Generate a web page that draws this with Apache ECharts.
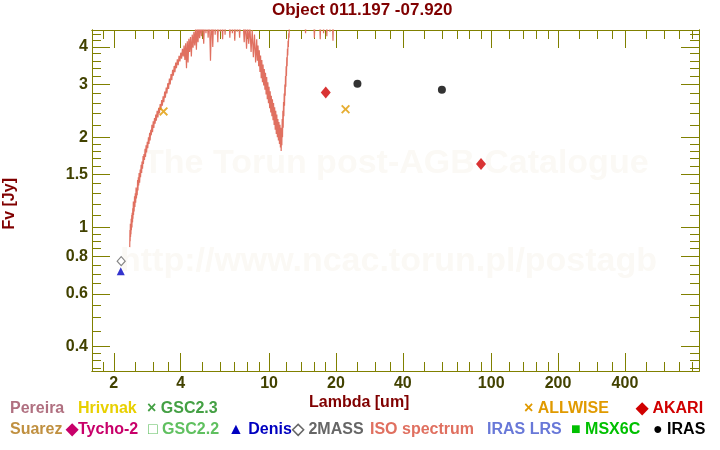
<!DOCTYPE html>
<html><head><meta charset="utf-8">
<script src="https://cdn.jsdelivr.net/npm/echarts@6/dist/echarts.min.js"></script>
<style>html,body{margin:0;padding:0;background:#fff}#c{width:720px;height:450px}</style>
</head><body><div id="c"></div>
<script>
// ISO spectrum [lambda um, Fv Jy]
const isoSpectrum = [
[2.360,0.86],[2.365,0.98],[2.370,0.90],[2.375,1.03],[2.380,0.93],[2.385,1.00],[2.390,0.95],[2.395,1.07],[2.400,0.98],[2.41,1.10],
[2.415,1.00],[2.42,1.12],[2.43,1.04],[2.435,1.16],[2.44,1.07],[2.45,1.22],[2.455,1.10],[2.46,1.18],[2.47,1.13],[2.48,1.27],
[2.49,1.17],[2.50,1.30],[2.51,1.21],[2.52,1.36],[2.53,1.25],[2.54,1.33],[2.55,1.28],[2.56,1.44],[2.57,1.33],[2.58,1.47],
[2.59,1.38],[2.60,1.52],[2.615,1.41],[2.63,1.56],[2.64,1.47],[2.655,1.62],[2.67,1.52],[2.68,1.66],[2.695,1.57],[2.71,1.73],
[2.72,1.63],[2.735,1.76],[2.75,1.68],[2.765,1.83],[2.78,1.72],[2.795,1.88],[2.81,1.78],[2.83,1.93],[2.845,1.84],[2.865,2.00],
[2.88,1.90],[2.90,2.07],[2.915,1.95],[2.935,2.12],[2.95,2.03],[2.97,2.20],[2.99,2.08],[3.01,2.26],[3.03,2.15],[3.05,2.32],
[3.07,2.22],[3.09,2.38],[3.11,2.27],[3.135,2.45],[3.16,2.33],[3.185,2.51],[3.21,2.40],[3.235,2.58],[3.26,2.47],[3.285,2.66],
[3.31,2.55],[3.335,2.74],[3.36,2.62],[3.39,2.84],[3.415,2.71],[3.445,2.93],[3.47,2.80],[3.50,3.03],[3.53,2.90],[3.56,3.14],
[3.59,3.00],[3.62,3.25],[3.65,3.10],[3.68,3.36],[3.71,3.21],[3.74,3.46],[3.77,3.30],[3.80,3.55],[3.83,3.40],[3.865,3.64],
[3.90,3.48],[3.935,3.74],[3.97,3.58],[4.005,3.83],[4.04,3.66],[4.075,3.95],[4.11,3.72],[4.145,4.05],[4.18,3.62],[4.215,4.12],
[4.25,3.40],[4.285,4.18],[4.32,3.55],[4.355,4.26],[4.39,3.85],[4.43,4.32],[4.47,3.72],[4.51,4.40],[4.55,3.98],[4.59,4.50],
[4.63,4.05],[4.67,4.62],[4.71,3.92],[4.75,4.70],[4.79,4.15],[4.83,4.75],[4.87,4.28],[4.91,4.85],
[4.96,4.35],[5.02,5.00],[5.08,4.10],[5.14,5.10],[5.20,4.45],[5.26,5.20],[5.32,4.30],[5.38,5.30],[5.45,3.60],[5.52,5.20],
[5.58,4.00],[5.65,5.40],[5.72,4.40],[5.80,5.30],[5.88,4.15],[5.95,5.40],[6.03,4.50],[6.10,5.30],[6.18,4.25],[6.26,5.50],
[6.34,4.40],[6.42,5.30],[6.50,4.60],[6.58,5.40],[6.66,4.30],[6.75,5.20],[6.84,4.45],[6.92,5.30],[7.01,4.20],[7.10,5.20],
[7.19,4.50],[7.28,5.10],[7.37,4.30],[7.46,5.10],[7.55,4.60],[7.64,4.95],[7.73,4.15],[7.82,4.90],[7.92,3.95],[8.01,4.80],
[8.10,4.10],[8.20,4.70],[8.30,3.85],[8.40,4.55],[8.50,3.70],[8.60,4.40],[8.70,3.55],
[8.80,4.25],[8.86,3.60],[8.92,4.05],[8.98,3.45],[9.04,3.90],[9.10,3.30],[9.16,3.75],[9.22,3.15],[9.28,3.62],[9.34,3.05],
[9.40,3.50],[9.46,2.98],[9.52,3.38],[9.58,2.88],[9.64,3.28],[9.70,2.78],[9.76,3.18],[9.82,2.68],[9.88,3.05],[9.94,2.60],
[10.00,2.95],[10.06,2.50],[10.12,2.85],[10.18,2.42],[10.24,2.75],[10.30,2.35],[10.36,2.68],[10.42,2.28],[10.48,2.60],[10.54,2.20],
[10.60,2.52],[10.66,2.12],[10.72,2.45],[10.78,2.05],[10.84,2.38],[10.90,2.00],[10.96,2.30],[11.02,1.95],[11.08,2.25],[11.14,1.90],
[11.20,2.20],[11.25,1.85],[11.30,2.15],[11.34,1.80],[11.38,2.10],[11.42,1.88],[11.46,2.30],[11.50,2.00],[11.54,2.45],[11.58,2.15],
[11.62,2.62],[11.66,2.35],[11.70,2.80],[11.74,2.55],[11.78,3.00],[11.82,2.75],[11.86,3.20],[11.90,2.95],[11.94,3.45],[11.98,3.20],
[12.02,3.70],[12.06,3.45],[12.10,3.95],[12.14,3.75],[12.18,4.20],[12.22,4.00],[12.26,4.45],[12.30,4.30],[12.34,4.70],[12.5,5.2],
[12.8,5.6],[13.1,5.4],[13.5,5.8],[13.9,5.5],[14.3,6.0],[14.6,4.45],[14.9,6.0],[15.3,5.8],[15.7,6.2],[16.0,4.30],
[16.3,6.1],[16.7,6.3],[17.0,4.25],[17.3,6.2],[17.6,4.45],[17.9,6.4],[18.2,4.35],[18.5,6.3],[18.8,4.50],[19.1,6.4],
[19.4,4.20],[19.7,6.5],[20.5,6.6],[22,6.8],[24,7.0],[27,7.2],[30,7.4],[35,7.6],[40,7.8],[45,8.0]
];
const allwise = [[3.35,2.44],[22.1,2.48]];
const akari = [[18,2.82],[90,1.63]];
const iras = [[25,3.02],[60,2.88]];
const twoMass = [[2.16,0.772]];
const denis = [[2.15,0.715]];

const xMajorTicks = [2,4,10,20,40,100,200,400];
const xMinorTicks = [1.8,2.5,3,3.5,5,6,7,8,9,12,14,16,18,25,30,35,50,60,70,80,90,120,140,160,180,250,300,350,500,600,700,800];
const yMajorTicks = [0.4,0.6,0.8,1,1.5,2,3,4];
const yMinorTicks = [0.34,0.36,0.38,0.45,0.5,0.55,0.65,0.7,0.75,0.85,0.9,0.95,1.1,1.2,1.3,1.4,1.6,1.7,1.8,1.9,2.2,2.4,2.6,2.8,3.2,3.4,3.6,3.8,4.2,4.4];

const olive = '#808000';
const labelColor = '#424200';
const FONT = '"Liberation Sans", Arial, sans-serif';
const X_MIN = 1.596, X_MAX = 862, Y_MIN = 0.332, Y_MAX = 4.56;

function mkAxis(kind, pos, vals, len, showLabel) {
  return {
    type: 'log', logBase: 10,
    min: kind === 'x' ? X_MIN : Y_MIN, max: kind === 'x' ? X_MAX : Y_MAX,
    position: pos,
    axisLine: { show: true, onZero: false, lineStyle: { color: olive, width: 1 } },
    axisTick: { show: true, inside: true, length: len, customValues: vals, lineStyle: { color: olive, width: 1 } },
    axisLabel: { show: showLabel, customValues: vals, color: labelColor, fontFamily: FONT, fontWeight: 'bold', fontSize: 16,
      margin: kind === 'x' ? 5 : 4, formatter: v => String(+v.toPrecision(3)) },
    splitLine: { show: false }, minorTick: { show: false }, minorSplitLine: { show: false }
  };
}

const xCross = 'path://M0,1.5 L1.5,0 L5,3.5 L8.5,0 L10,1.5 L6.5,5 L10,8.5 L8.5,10 L5,6.5 L1.5,10 L0,8.5 L3.5,5 Z';

function legendItem(x, y, text, color) {
  return { type: 'text', left: x, top: y, style: { text, fill: color, font: 'bold 16px ' + FONT } };
}

const chart = echarts.init(document.getElementById('c'), null, { renderer: 'canvas' });
chart.setOption({
  animation: false,
  backgroundColor: '#fff',
  grid: { left: 92, right: 21, top: 30, bottom: 79, containLabel: false },
  xAxis: [
    mkAxis('x', 'bottom', xMajorTicks, 18, true),
    mkAxis('x', 'bottom', xMinorTicks, 9, false),
    mkAxis('x', 'top', xMajorTicks, 18, false),
    mkAxis('x', 'top', xMinorTicks, 9, false)
  ],
  yAxis: [
    mkAxis('y', 'left', yMajorTicks, 18, true),
    mkAxis('y', 'left', yMinorTicks, 9, false),
    mkAxis('y', 'right', yMajorTicks, 18, false),
    mkAxis('y', 'right', yMinorTicks, 9, false)
  ],
  graphic: [
    { type: 'text', left: 143, top: 147, z: -10, silent: true, style: { text: 'The Torun post-AGB Catalogue', fill: '#fbf9f5', font: 'bold 34px ' + FONT } },
    { type: 'text', left: 120, top: 245, z: -10, silent: true, style: { text: 'http://www.ncac.torun.pl/postagb', fill: '#fbf9f5', font: 'bold 34px ' + FONT } },
    { type: 'text', left: 272, top: 2, style: { text: 'Object 011.197 -07.920', fill: '#800000', font: 'bold 17px ' + FONT } },
    { type: 'text', left: 309, top: 395, style: { text: 'Lambda [um]', fill: '#800000', font: 'bold 16px ' + FONT } },
    { type: 'text', left: 2, top: 178, rotation: Math.PI / 2, style: { text: 'Fv [Jy]', fill: '#800000', font: 'bold 16px ' + FONT } },
    legendItem(10, 401, 'Pereira', '#b07080'),
    legendItem(78, 401, 'Hrivnak', '#e8d000'),
    legendItem(147, 401, '× GSC2.3', '#44a044'),
    legendItem(524, 401, '× ALLWISE', '#e09a00'),
    legendItem(636, 401, '◆ AKARI', '#d00000'),
    legendItem(10, 422, 'Suarez', '#c09040'),
    legendItem(66, 422, '◆Tycho-2', '#c8006a'),
    legendItem(148, 422, '□ GSC2.2', '#60c060'),
    legendItem(228, 422, '▲ Denis', '#0000c0'),
    legendItem(292, 422, '◇ 2MASS', '#666666'),
    legendItem(370, 422, 'ISO spectrum', '#e07060'),
    legendItem(487, 422, 'IRAS LRS', '#6878d8'),
    legendItem(571, 422, '■ MSX6C', '#00c000'),
    legendItem(653, 422, '● IRAS', '#000000')
  ],
  series: [
    { name: 'ISO spectrum', type: 'line', data: isoSpectrum, symbol: 'none', clip: true,
      lineStyle: { color: '#e07060', width: 1.2 }, z: 2 },
    { name: 'ALLWISE', type: 'scatter', data: allwise, symbol: xCross, symbolSize: 9, itemStyle: { color: '#e09a00' }, z: 5 },
    { name: 'AKARI', type: 'scatter', data: akari, symbol: 'diamond', symbolSize: [10, 12], itemStyle: { color: '#d00000' }, z: 5 },
    { name: 'IRAS', type: 'scatter', data: iras, symbol: 'circle', symbolSize: 8, itemStyle: { color: '#000000' }, z: 5 },
    { name: '2MASS', type: 'scatter', data: twoMass, symbol: 'diamond', symbolSize: [8, 9], itemStyle: { color: '#fff', borderColor: '#666666', borderWidth: 1.2 }, z: 5 },
    { name: 'Denis', type: 'scatter', data: denis, symbol: 'triangle', symbolSize: 8, itemStyle: { color: '#0000c0' }, z: 5 }
  ]
});
</script>
</body></html>
